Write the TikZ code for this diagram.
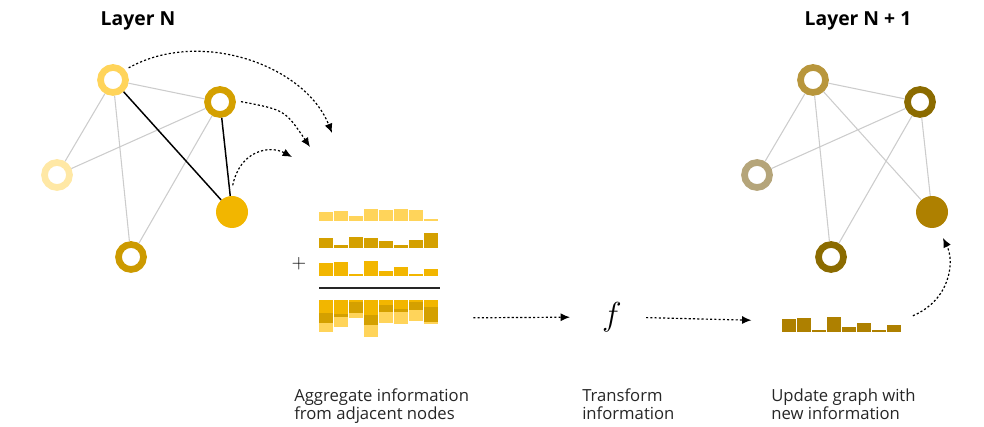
\documentclass[tikz,border=0pt]{standalone}
\usepackage{fontspec}
\setmainfont{Open Sans}
\usetikzlibrary{arrows.meta}
\definecolor{edgegrey}{HTML}{CCCCCC}
\definecolor{txtgrey}{HTML}{262626}
\definecolor{ylight}{HTML}{FFD45A}
\definecolor{ypale}{HTML}{FFE8A5}
\definecolor{ygold}{HTML}{D4A000}
\definecolor{ymid}{HTML}{F2B600}
\definecolor{ydeep}{HTML}{CC9A00}
\definecolor{bsand}{HTML}{B8963C}
\definecolor{bdark}{HTML}{8B6B00}
\definecolor{bpale}{HTML}{B5A57A}
\definecolor{bmid}{HTML}{AE8000}
\tikzset{
  ring/.style={circle,draw=#1,line width=5pt,minimum size=18.75pt,inner sep=0pt,fill=white},
  dot/.style={circle,fill=#1,minimum size=24pt,inner sep=0pt},
  lnk/.style={edgegrey,line width=0.8pt},
  hot/.style={black,line width=1.1pt},
  darr/.style={-{Latex[length=7pt,width=6pt]},line width=0.9pt,dash pattern=on 1.6pt off 1.6pt},
  ttl/.style={anchor=base,inner sep=0pt,font=\bfseries\fontsize{14.5}{16}\selectfont},
  captxt/.style={anchor=base west,align=left,inner sep=0pt,text=txtgrey,font=\fontsize{12.5}{13.5}\selectfont},
}
\begin{document}
\begin{tikzpicture}[x=0.75pt,y=-0.75pt]
  \useasboundingbox (0,0) rectangle (984,427);
  % layer N
  \node[ttl] (tl) at (138,26) {Layer N};
  \node[ring=ylight] (la) at (113,80) {};
  \node[ring=ygold] (lb) at (220,102) {};
  \node[ring=ypale] (lc) at (57,175) {};
  \node[dot=ymid] (ld) at (232,212) {};
  \node[ring=ydeep] (le) at (131,257) {};
  \draw[lnk] (la) -- (lb) (la) -- (lc) (la) -- (le) (lb) -- (lc) (lb) -- (le);
  \draw[hot] (la) -- (ld) (lb) -- (ld);
  % messages to the target node
  \coordinate (m1) at (332,133);
  \coordinate (m2) at (310,147);
  \coordinate (m3) at (292,157);
  \draw[darr,shorten <=3pt] (la.40) .. controls (200,28) and (305,65) .. (m1);
  \draw[darr,shorten <=4pt] (lb.5) .. controls (285,110) .. (m2);
  \draw[darr,shorten <=8pt] (ld.95) .. controls (240,150) and (270,145) .. (m3);
  % aggregation
  \node[font=\fontsize{14}{14}\selectfont] (plus) at (299,264) {$+$};
  \foreach \i/\p/\q/\r in {0/9/10/13, 1/10/3/14, 2/5/11/2, 3/12/10/15,
                           4/11/7/5, 5/12/3/9, 6/11/8/2, 7/2/15/7}{
    \fill[ylight] ({319+15*\i},221) rectangle ++(14,-\p);
    \fill[ygold] ({319+15*\i},248) rectangle ++(14,-\q);
    \fill[ymid] ({319+15*\i},276) rectangle ++(14,-\r);
    \fill[ymid] ({319+15*\i},300) rectangle ++(14,\r);
    \fill[ygold] ({319+15*\i},{300+\r}) rectangle ++(14,\q);
    \fill[ylight] ({319+15*\i},{300+\r+\q}) rectangle ++(14,\p);
  }
  \draw[txtgrey,line width=1pt] (319,288) -- (440,288);
  \node[inner sep=0pt,minimum width=90pt,minimum height=27pt] (sum) at (379,318) {};
  % transform
  \node[inner sep=0pt,font=\fontsize{24.88}{26}\selectfont] (fn) at (612,317) {$f$};
  \draw[darr,shorten <=25.5pt,shorten >=24pt] (sum.east) -- (fn.west);
  % update
  \foreach \i/\r in {0/13, 1/14, 2/2, 3/15, 4/5, 5/9, 6/2, 7/7}{
    \fill[bmid] ({782+15*\i},332) rectangle ++(14,-\r);
  }
  \node[inner sep=0pt,minimum width=89pt,minimum height=12pt] (upd) at (841,321) {};
  \draw[darr,shorten <=18pt,shorten >=22.5pt] (fn.east) -- (upd.west);
  % layer N + 1
  \node[ttl] (tr) at (858,26) {Layer N + 1};
  \node[ring=bsand] (ra) at (813,80) {};
  \node[ring=bdark] (rb) at (920,102) {};
  \node[ring=bpale] (rc) at (757,175) {};
  \node[dot=bmid] (rd) at (932,212) {};
  \node[ring=bdark] (re) at (831,257) {};
  \draw[lnk] (ra) -- (rb) (ra) -- (rc) (ra) -- (re) (ra) -- (rd)
              (rb) -- (rc) (rb) -- (re) (rb) -- (rd);
  \draw[darr,shorten <=10pt,shorten >=9pt] (upd.east) .. controls (950,300) and (955,262) .. (rd.-70);
  % captions
  \node[captxt] (tagg) at (294,419) {Aggregate information\\from adjacent nodes};
  \node[captxt] (ttrans) at (582,419) {Transform\\information};
  \node[captxt] (tupd) at (771,419) {Update graph with\\new information};
\end{tikzpicture}
\end{document}
